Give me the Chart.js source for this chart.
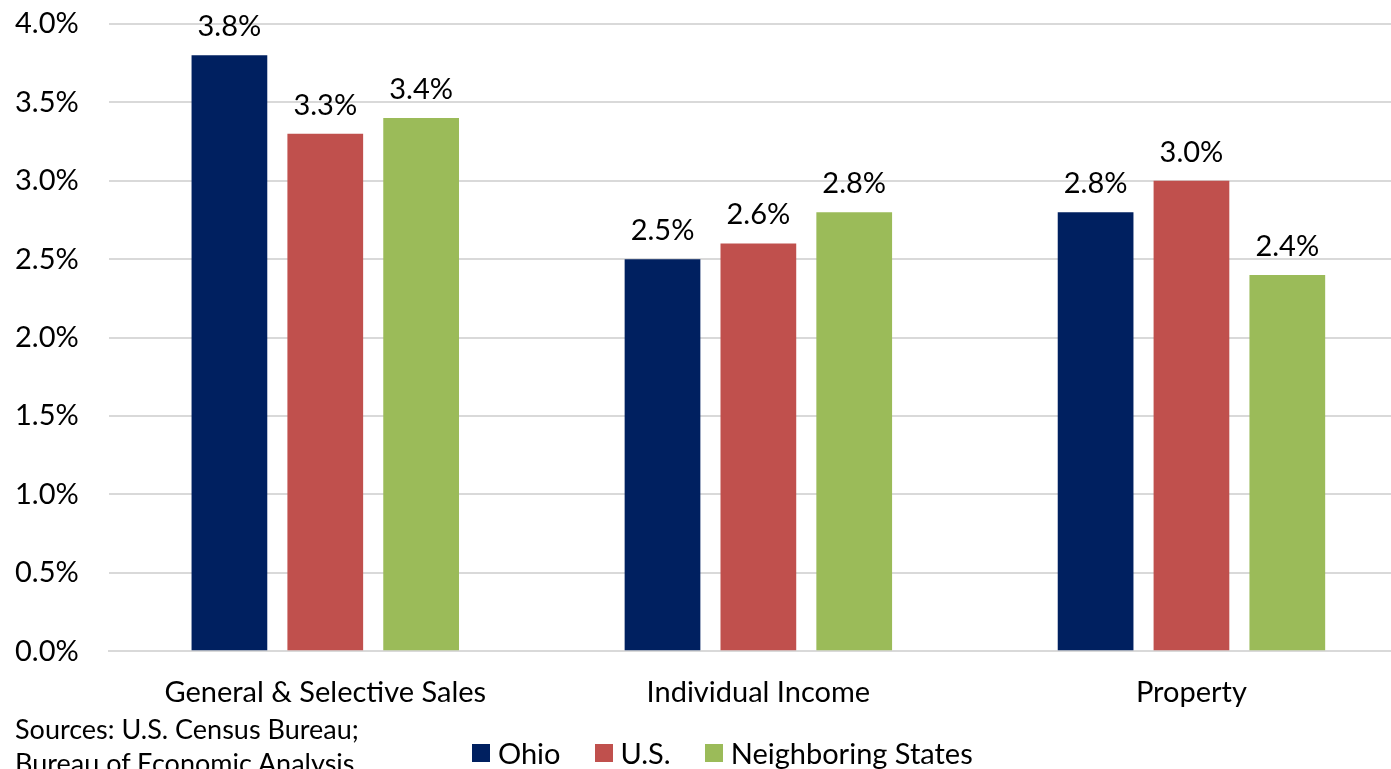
<!DOCTYPE html>
<html>
<head>
<meta charset="utf-8">
<script src="https://cdn.jsdelivr.net/npm/chart.js@4/dist/chart.umd.min.js"></script>
<style>
  html,body{margin:0;padding:0;background:#fff;overflow:hidden;}
  #wrap{position:relative;width:1410px;height:769px;}
  #src{position:absolute;left:15px;top:712px;font-family:Lato,'Open Sans',sans-serif;font-size:27px;line-height:34px;color:#000;}
  #legend{position:absolute;left:472px;top:736px;font-family:Lato,'Open Sans',sans-serif;font-size:29px;line-height:34px;color:#000;display:flex;align-items:center;white-space:nowrap;}
  #legend .it{display:flex;align-items:center;margin-right:34px;}
  #legend .sw{width:18px;height:18px;margin-right:8px;}
</style>
</head>
<body>
<div id="wrap">
  <canvas id="c" width="1410" height="769"></canvas>
  <div id="src">Sources: U.S. Census Bureau;<br>Bureau of Economic Analysis</div>
  <div id="legend"></div>
</div>
<script>
// ====== DATA ======
const CATEGORIES = ['General & Selective Sales', 'Individual Income', 'Property'];
const OHIO = [3.8, 2.5, 2.8];
const US = [3.3, 2.6, 3.0];
const NEIGHBORS = [3.4, 2.8, 2.4];
const FONT = 'Lato, "Open Sans", sans-serif';
const FS = 29;

// labels above bars
const barLabels = {
  id:'barLabels',
  afterDatasetsDraw(chart){
    const ctx = chart.ctx;
    ctx.save();
    ctx.font = FS + 'px ' + FONT;
    ctx.fillStyle = '#000';
    ctx.textAlign = 'center';
    ctx.textBaseline = 'bottom';
    chart.data.datasets.forEach((ds,i)=>{
      chart.getDatasetMeta(i).data.forEach((bar,j)=>{
        ctx.fillText(ds.data[j].toFixed(1)+'%', bar.x, bar.y - 14);
      });
    });
    ctx.restore();
  }
};

const chart = new Chart(document.getElementById('c'), {
  type:'bar',
  data:{
    labels: CATEGORIES,
    datasets:[
      {label:'Ohio', data:OHIO, backgroundColor:'#002060'},
      {label:'U.S.', data:US, backgroundColor:'#C0504D'},
      {label:'Neighboring States', data:NEIGHBORS, backgroundColor:'#9BBB59'}
    ]
  },
  options:{
    responsive:false,
    animation:false,
    categoryPercentage:0.664,
    barPercentage:0.79,
    layout:{padding:{top:24, right:2, bottom:43, left:15}},
    plugins:{
      legend:{display:false},
      tooltip:{enabled:false}
    },
    scales:{
      x:{
        grid:{display:false},
        border:{color:'#d9d9d9', width:2},
        ticks:{font:{family:FONT,size:FS}, color:'#000', padding:16},
        afterFit:s=>{ s.paddingLeft=0; s.paddingRight=0; }
      },
      y:{
        min:0, max:4,
        border:{display:false},
        grid:{color:'#d9d9d9', lineWidth:2, drawTicks:false},
        ticks:{stepSize:0.5, font:{family:FONT,size:FS}, color:'#000', padding:30,
          callback:v=>v.toFixed(1)+'%'},
        afterFit:s=>{ s.paddingTop=0; s.paddingBottom=0; s.width -= 30; }
      }
    }
  },
  plugins:[barLabels]
});

// ====== LEGEND ======
const leg = document.getElementById('legend');
chart.data.datasets.forEach(ds=>{
  const it = document.createElement('span'); it.className='it';
  const sw = document.createElement('span'); sw.className='sw'; sw.style.background=ds.backgroundColor;
  const tx = document.createElement('span'); tx.textContent=ds.label;
  it.appendChild(sw); it.appendChild(tx); leg.appendChild(it);
});
</script>
</body>
</html>
